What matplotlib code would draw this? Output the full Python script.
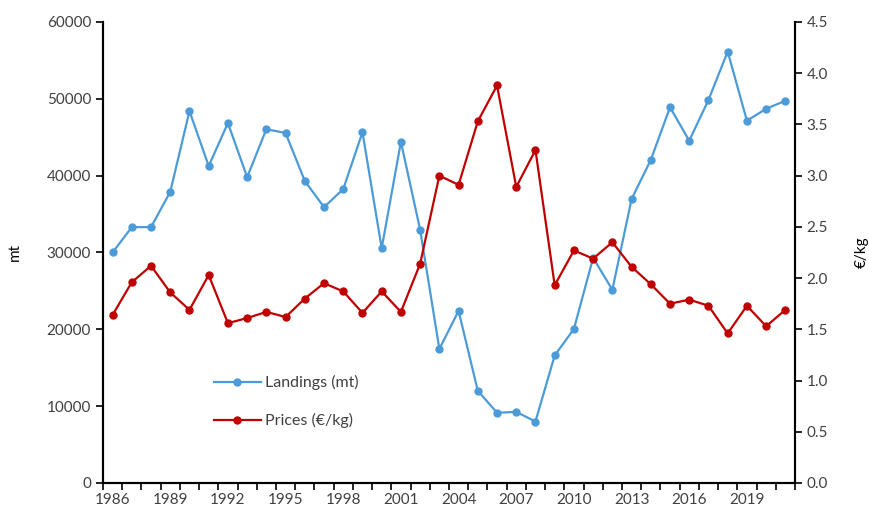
import numpy as np
import matplotlib.pyplot as plt
from matplotlib.ticker import FixedLocator, NullFormatter

plt.rcParams["font.family"] = ["Lato", "DejaVu Sans"]
plt.rcParams["font.size"] = 11

years = np.arange(1986, 2022)
landings = [30000, 33300, 33300, 37900, 48400, 41250, 46850, 39800, 46050, 45550,
            39300, 35900, 38250, 45650, 30550, 44400, 32950, 17450, 22400, 12000,
            9150, 9250, 8000, 16600, 20050, 29300, 25150, 36950, 42050, 48900,
            44550, 49850, 56150, 47150, 48700, 49750]
prices = [1.64, 1.96, 2.12, 1.86, 1.69, 2.03, 1.56, 1.61, 1.67, 1.62,
          1.80, 1.95, 1.87, 1.66, 1.87, 1.67, 2.14, 3.00, 2.91, 3.53,
          3.88, 2.89, 3.25, 1.93, 2.27, 2.19, 2.35, 2.11, 1.94, 1.75,
          1.79, 1.73, 1.46, 1.73, 1.53, 1.69]
label_years = years[::3]

blue = "#4c9bd9"
red = "#c00000"
ink = "#404040"

fig = plt.figure(figsize=(8.69, 5.11), dpi=100)
ax = fig.add_axes([0.1185, 0.0548, 0.7963, 0.9022])
ax2 = ax.twinx()

l1, = ax.plot(years, landings, color=blue, lw=1.6, marker="o", ms=5, label="Landings (mt)")
l2, = ax2.plot(years, prices, color=red, lw=1.6, marker="o", ms=5, label="Prices (€/kg)")

ax.set_xlim(years[0] - 0.5, years[-1] + 0.5)
ax.set_ylim(0, 60000)
ax2.set_ylim(0, 4.5)
ax.set_yticks(np.arange(0, 60001, 10000))
ax2.set_yticks(np.arange(0, 4.51, 0.5))
ax2.set_yticklabels([f"{v:.1f}" for v in np.arange(0, 4.51, 0.5)])

# tick marks sit between categories, labels every third year
ax.xaxis.set_major_locator(FixedLocator(np.arange(years[0] - 0.5, years[-1] + 1, 1)))
ax.xaxis.set_major_formatter(NullFormatter())
ax.set_xticks(label_years, minor=True)
ax.set_xticklabels([str(y) for y in label_years], minor=True)
ax.tick_params(axis="x", which="major", length=5, width=1.2, color="black")
ax.tick_params(axis="x", which="minor", length=0, pad=7, labelcolor=ink)
ax.tick_params(axis="y", length=5, width=1.2, labelcolor=ink)
ax2.tick_params(axis="y", length=5, width=1.2, labelcolor=ink)

for a in (ax, ax2):
    a.spines["top"].set_visible(False)
    for s in ("left", "right", "bottom"):
        a.spines[s].set_linewidth(1.5)
        a.spines[s].set_color("black")

ax.set_ylabel("mt", color="black", labelpad=18)
ax2.set_ylabel("€/kg", color="black", labelpad=19)

ax.legend(handles=[l1, l2], loc="center left", bbox_to_anchor=(0.14, 0.176),
          frameon=False, handlelength=2.9, handletextpad=0.25, labelspacing=1.45,
          fontsize=11.5, labelcolor=ink, markerscale=1.0)

fig.savefig("out.png", dpi=100)
